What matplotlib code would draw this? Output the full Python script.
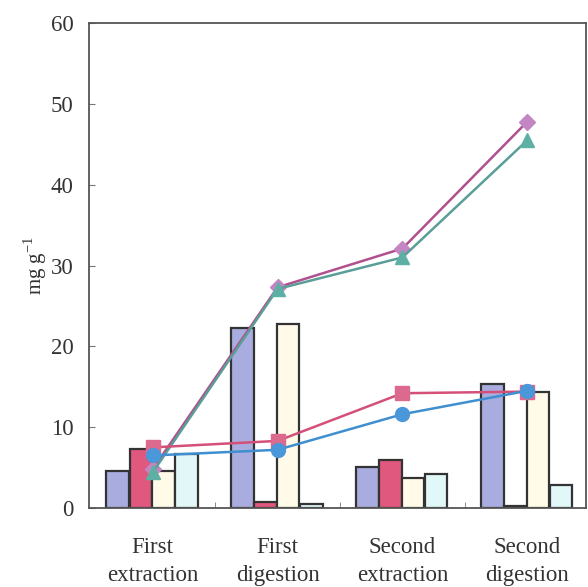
import numpy as np
import matplotlib.pyplot as plt

# data
categories = ['First\nextraction', 'First\ndigestion', 'Second\nextraction', 'Second\ndigestion']
bar_blue = [4.6, 22.3, 5.1, 15.4]
bar_red = [7.3, 0.8, 6.0, 0.3]
bar_cream = [4.6, 22.8, 3.7, 14.4]
bar_cyan = [6.7, 0.5, 4.2, 2.8]
line_diamond = [4.8, 27.3, 32.1, 47.8]
line_triangle = [4.4, 27.1, 31.0, 45.5]
line_square = [7.5, 8.3, 14.2, 14.4]
line_circle = [6.5, 7.2, 11.6, 14.5]

plt.rcParams['font.family'] = ['Liberation Serif', 'DejaVu Serif']

fig = plt.figure(figsize=(5.88, 5.87), dpi=100)
ax = fig.add_axes([89 / 588, 79 / 587, 497 / 588, 485 / 587])

x = np.arange(len(categories))
w = 0.18
offsets = [-0.28, -0.095, 0.085, 0.27]
bar_sets = [(bar_blue, '#a9acdf'), (bar_red, '#e0587e'),
            (bar_cream, '#fffbe8'), (bar_cyan, '#e2f7f8')]
for (vals, col), off in zip(bar_sets, offsets):
    ax.bar(x + off, vals, width=w, color=col, edgecolor='#333333', linewidth=1.6, zorder=2)

ax.plot(x, line_diamond, color='#b0508e', lw=1.8, marker='D', ms=8,
        mfc='#c486c2', mec='#c486c2', zorder=3)
ax.plot(x, line_triangle, color='#5a9e98', lw=1.8, marker='^', ms=10,
        mfc='#5fb0a4', mec='#5fb0a4', zorder=3)
ax.plot(x, line_square, color='#d45078', lw=1.8, marker='s', ms=10,
        mfc='#dc6a8e', mec='#dc6a8e', zorder=3)
ax.plot(x, line_circle, color='#3f8fd0', lw=1.8, marker='o', ms=10,
        mfc='#4a97da', mec='#4a97da', zorder=4)

ax.set_xlim(-0.51, 3.47)
ax.set_ylim(0, 60)
ax.set_yticks(np.arange(0, 61, 10))
ax.set_xticks(x)
ax.set_xticklabels(categories, fontsize=16.5, color='#333333', linespacing=1.45)
ax.set_xticks([0.5, 1.5, 2.5], minor=True)
ax.tick_params(axis='x', which='major', length=0, pad=21)
ax.tick_params(axis='x', which='minor', direction='in', length=4, color='#777777')
ax.tick_params(axis='y', direction='in', length=4, labelsize=16.5, labelcolor='#333333',
               color='#777777', pad=11)
for s in ax.spines.values():
    s.set_color('#555555')
    s.set_linewidth(1.3)

ax.set_ylabel('mg g$^{\\mathregular{-1}}$', fontsize=15, color='#333333', labelpad=1)

fig.savefig('out.png', dpi=100)
